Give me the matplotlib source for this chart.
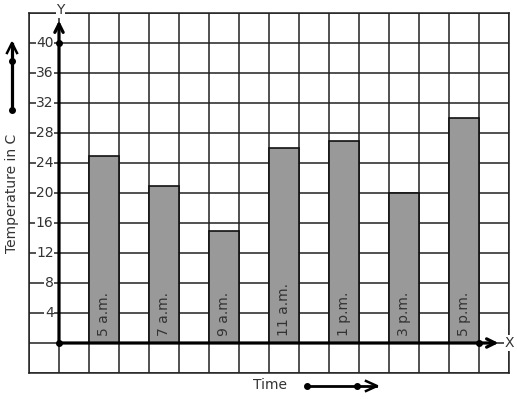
import matplotlib
matplotlib.use("Agg")
import matplotlib.pyplot as plt
from matplotlib.lines import Line2D

times = ["5 a.m.", "7 a.m.", "9 a.m.", "11 a.m.", "1 p.m.", "3 p.m.", "5 p.m."]
temps = [25, 21, 15, 26, 27, 20, 30]
yticks = [4, 8, 12, 16, 20, 24, 28, 32, 36, 40]

W, H = 517, 399
fig = plt.figure(figsize=(W / 100, H / 100), dpi=100)

def fx(px):
    return px / W

def fy(py):
    return 1 - py / H

ax = fig.add_axes([fx(29), fy(373), fx(509) - fx(29), fy(13) - fy(373)])
ax.set_xlim(-1, 15)
ax.set_ylim(-4, 44)
ax.set_xticks(range(-1, 16))
ax.set_yticks(range(-4, 45, 4))
ax.grid(True, color="#222222", linewidth=1.1, zorder=0)
ax.tick_params(length=0, labelbottom=False, labelleft=False)
for s in ax.spines.values():
    s.set_color("#222222")
    s.set_linewidth(1.1)

gc = "#333333"
xs = [1.5 + 2 * i for i in range(len(times))]
ax.bar(xs, temps, width=1, color="#999999", edgecolor="#111111", linewidth=1.2, zorder=2)
for x, lab in zip(xs, times):
    ax.text(x, 0.9, lab, rotation=90, ha="center", va="bottom", fontsize=10, color=gc, zorder=3)

# axes arrows
ax.annotate("", xy=(0, 43.0), xytext=(0, 0),
            arrowprops=dict(arrowstyle="->,head_length=0.6,head_width=0.3", lw=2.3, color="black",
                            shrinkA=0, shrinkB=0), zorder=4)
ax.annotate("", xy=(14.65, 0), xytext=(0, 0),
            arrowprops=dict(arrowstyle="->,head_length=0.6,head_width=0.3", lw=2.3, color="black",
                            shrinkA=0, shrinkB=0), zorder=4)
ax.plot([0, 0, 14], [0, 40, 0], "o", color="black", markersize=4, zorder=5, clip_on=False)

for t in yticks:
    ax.text(-0.18, t, str(t), ha="right", va="center", fontsize=10, color=gc,
            bbox=dict(facecolor="white", edgecolor="none", pad=0.3), zorder=3)

ax.text(0.05, 44.4, "Y", ha="center", va="center", fontsize=10, color=gc,
        bbox=dict(facecolor="white", edgecolor="none", pad=0.5), clip_on=False, zorder=6)
ax.text(15.0, 0, "X", ha="center", va="center", fontsize=10, color=gc,
        bbox=dict(facecolor="white", edgecolor="none", pad=0.5), clip_on=False, zorder=6)

# side decorations in figure coordinates
fig.text(fx(12), fy(193), "Temperature in C", rotation=90, ha="center", va="center",
         fontsize=10, color=gc)
fig.text(fx(270), fy(385), "Time", ha="center", va="center", fontsize=10, color=gc)

fig.add_artist(Line2D([fx(12), fx(12)], [fy(110), fy(44)], color="black", lw=2.3))
fig.add_artist(Line2D([fx(7), fx(12), fx(17)], [fy(53), fy(43), fy(53)], color="black", lw=1.8))
fig.add_artist(Line2D([fx(12), fx(12)], [fy(61), fy(110)], color="black", lw=0, marker="o", markersize=4))

fig.add_artist(Line2D([fx(307), fx(376)], [fy(386), fy(386)], color="black", lw=2.0))
fig.add_artist(Line2D([fx(366), fx(377), fx(366)], [fy(381), fy(386), fy(391)], color="black", lw=1.8))
fig.add_artist(Line2D([fx(307), fx(357)], [fy(386), fy(386)], color="black", lw=0, marker="o", markersize=4))

fig.savefig("out.png", dpi=100, facecolor="white")
